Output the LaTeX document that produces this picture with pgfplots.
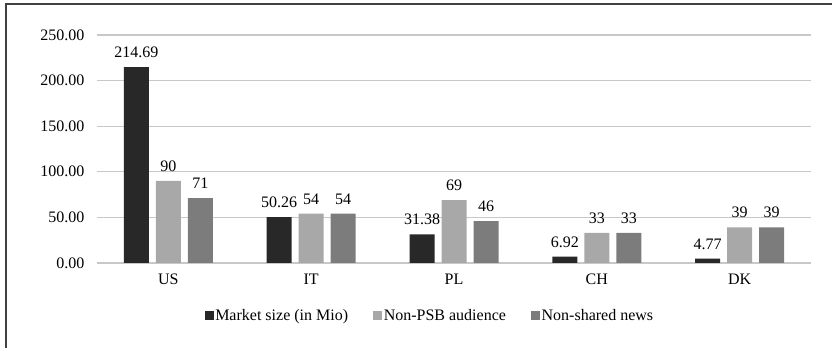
\documentclass[border=0pt]{standalone}
\usepackage{fontspec}
\setmainfont{Liberation Serif}
\usepackage{pgfplots}
\pgfplotsset{compat=1.18}
\definecolor{cA}{HTML}{282828}
\definecolor{cB}{HTML}{A8A8A8}
\definecolor{cC}{HTML}{7C7C7C}
\definecolor{gridc}{HTML}{C8C8C8}
\begin{document}
\begin{tikzpicture}[font=\fontsize{12}{14}\selectfont]
\path[use as bounding box] (-72.75pt,-63.75pt) rectangle (551.25pt,197.25pt);
\begin{axis}[
  at={(0,0)}, anchor=south west,
  scale only axis, width=535.5pt, height=171pt,
  ybar=5.25pt, bar width=18.75pt,
  xmin=-0.5, xmax=4.5, ymin=0, ymax=250,
  xtick={0,1,2,3,4}, xticklabels={US,IT,PL,CH,DK},
  ytick={0,50,100,150,200,250},
  /pgf/number format/assume math mode=true,
  yticklabel style={xshift=-6pt, /pgf/number format/fixed, /pgf/number format/fixed zerofill, /pgf/number format/precision=2},
  xticklabel style={yshift=-5pt},
  major tick length=0pt,
  axis lines*=left,
  y axis line style={draw=none},
  x axis line style={draw=gridc, line width=0.9pt, -},
  ymajorgrids, grid style={gridc, line width=0.9pt},
  nodes near coords,
  every node near coord/.append style={font=\fontsize{12}{14}\selectfont, yshift=3.5pt},
  legend columns=-1,
  legend style={draw=none, at={(0.466,-0.232)}, anchor=center, font=\fontsize{12}{14}\selectfont,
    /tikz/every even column/.append style={column sep=18pt},
    nodes={inner sep=1pt}},
  legend image code/.code={\fill[#1] (0pt,-3.4pt) rectangle (6.75pt,3.4pt);},
]
\addplot[fill=cA, draw=none,
  nodes near coords={\pgfmathprintnumber[fixed,fixed zerofill,precision=2]{\pgfplotspointmeta}}]
  coordinates {(0,214.69) (1,50.26) (2,31.38) (3,6.92) (4,4.77)};
\addplot[fill=cB, draw=none] coordinates {(0,90) (1,54) (2,69) (3,33) (4,39)};
\addplot[fill=cC, draw=none] coordinates {(0,71) (1,54) (2,46) (3,33) (4,39)};
\legend{Market size (in Mio), Non-PSB audience, Non-shared news}
\end{axis}
\draw[line width=1.5pt, black!75] (-68.6pt,-70pt) -- (-68.6pt,194.25pt) -- (560pt,194.25pt);
\end{tikzpicture}
\end{document}
